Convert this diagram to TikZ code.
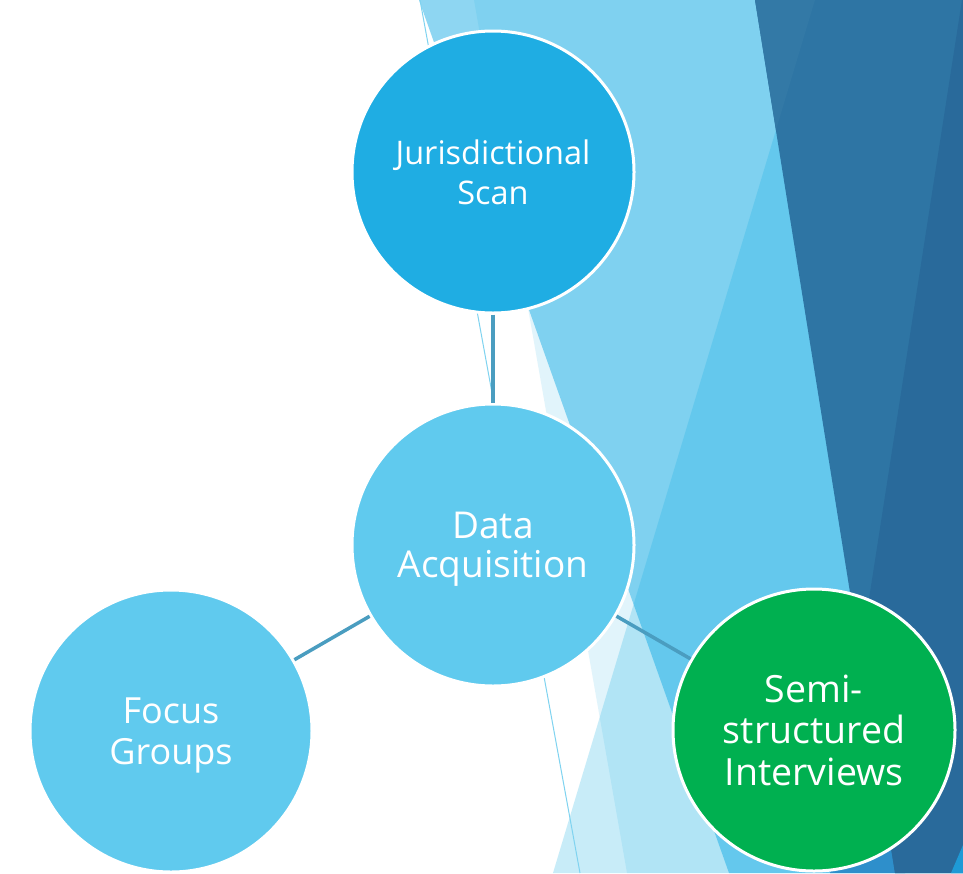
\documentclass[tikz,border=0pt]{standalone}
\usepackage{fontspec}
\setmainfont{Open Sans}
\usepackage{tikz}
\usetikzlibrary{positioning,calc}

\definecolor{scanblue}{RGB}{31,173,227}
\definecolor{skyblue}{RGB}{96,202,238}
\definecolor{facetgreen}{RGB}{0,176,80}
\definecolor{linkblue}{RGB}{74,157,192}
\definecolor{facetS}{RGB}{30,170,225}
\definecolor{facetA}{RGB}{30,175,230}
\definecolor{facetB}{RGB}{8,172,227}
\definecolor{darkA}{RGB}{46,117,164}
\definecolor{darkB}{RGB}{51,121,166}
\definecolor{darkC}{RGB}{41,106,155}
\definecolor{midblue}{RGB}{46,143,203}
\definecolor{brightblue}{RGB}{30,154,214}
\definecolor{hairline}{RGB}{127,211,240}

\tikzset{
  bubble/.style={circle, draw=white, line width=3pt, text=white, align=center,
    minimum size=282pt, inner sep=0pt, text depth=0pt},
  link/.style={linkblue, line width=3.5pt},
}

\begin{document}
\begin{tikzpicture}[x=1pt, y=-1pt]
    \useasboundingbox (0,0) rectangle (963,873);
    % Background facets
    \fill[white] (0,0) rectangle (963,873);
    \fill[facetS, fill opacity=0.13] (474,0) -- (963,0) -- (963,873) -- (627,873) -- cycle;
    \fill[facetA, fill opacity=0.5] (419,0) -- (963,0) -- (963,873) -- (729,873) -- cycle;
    \fill[facetB, fill opacity=0.22] (815,0) -- (963,0) -- (963,873) -- (553,873) -- cycle;
    \draw[hairline, line width=1pt] (420,0) -- (580,873);
    \fill[midblue] (830,873) -- (905,873) -- (885,750) -- cycle;
    \fill[darkA] (755,0) -- (963,0) -- (963,873) -- (895,873) -- cycle;
    \fill[darkB] (755,0) -- (815,0) -- (776,130) -- cycle;
    \fill[darkC] (962,0) -- (963,0) -- (963,873) -- (895,873) -- (860,657) -- cycle;
    \fill[brightblue] (951,873) -- (963,873) -- (963,845) -- cycle;

    % Bubbles
    \node[bubble, fill=scanblue, font=\fontsize{32.5}{40.5}\selectfont] (scan) at (493,172) {Jurisdictional\\Scan};
    \node[bubble, fill=skyblue, font=\fontsize{37}{39.5}\selectfont] (data) at (493,545) {Data\\Acquisition};
    \node[bubble, fill=skyblue, font=\fontsize{36}{41.7}\selectfont] (focus) at (171,731) {Focus\\Groups};
    \node[bubble, fill=facetgreen, font=\fontsize{37.5}{41.7}\selectfont] (semi) at (814,730) {Semi-\\structured\\Interviews};

    % Links
    \draw[link] (scan) -- (data);
    \draw[link] (data) -- (focus);
    \draw[link] (data) -- (semi);
\end{tikzpicture}
\end{document}
